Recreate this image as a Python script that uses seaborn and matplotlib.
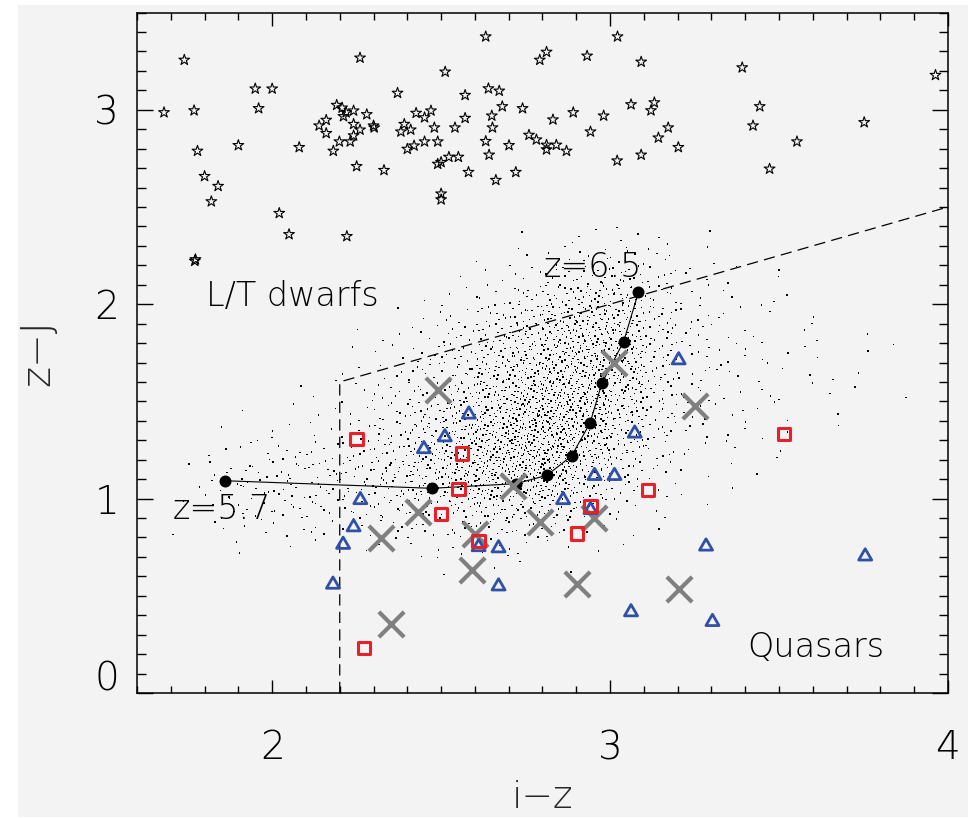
import numpy as np
import matplotlib
matplotlib.use("Agg")
import matplotlib.pyplot as plt
import matplotlib.transforms as mtransforms
from matplotlib.patches import Rectangle
from matplotlib.path import Path
from matplotlib.ticker import MultipleLocator
import seaborn as sns

# ---------------------------------------------------------------- data
# L/T dwarfs (i-z, z-J)
dwarf_iz = [1.740, 1.680, 1.769, 1.950, 2.000, 1.960, 1.779, 1.900, 2.080, 1.800,
            1.840, 1.820, 2.021, 2.050, 2.221, 1.771, 1.773,
            2.260, 2.371, 2.191, 2.207, 2.219, 2.211, 2.241, 2.280, 2.160, 2.139,
            2.160, 2.241, 2.260, 2.241, 2.199, 2.231, 2.181, 2.300, 2.302, 2.250,
            2.331, 2.391, 2.381, 2.410, 2.426, 2.400, 2.420,
            2.470, 2.451, 2.451, 2.490, 2.480, 2.541, 2.512, 2.571, 2.571, 2.632,
            2.640, 2.672, 2.681, 2.650, 2.652, 2.632, 2.642, 2.741, 2.701, 2.490,
            2.500, 2.523, 2.551, 2.581, 2.662, 2.721, 2.500, 2.500, 2.792, 2.812,
            2.932, 3.022, 3.092, 2.760, 2.782, 2.812, 2.812, 2.841, 2.871, 2.831,
            2.891, 2.942, 2.981, 3.021, 3.062, 3.131, 3.121, 3.172, 3.143, 3.092,
            3.202, 3.391, 3.963, 3.443, 3.423, 3.553, 3.472, 3.752]
dwarf_zj = [3.256, 2.986, 2.996, 3.108, 3.108, 3.007, 2.788, 2.817, 2.807, 2.658,
            2.607, 2.528, 2.468, 2.359, 2.349, 2.222, 2.230,
            3.267, 3.086, 3.024, 3.010, 2.986, 2.966, 2.995, 2.976, 2.947, 2.918,
            2.879, 2.926, 2.897, 2.867, 2.836, 2.836, 2.788, 2.918, 2.908, 2.709,
            2.689, 2.926, 2.887, 2.897, 2.983, 2.798, 2.815,
            2.995, 2.960, 2.836, 2.836, 2.908, 2.908, 3.195, 3.075, 2.957, 3.376,
            3.109, 3.097, 3.017, 2.969, 2.908, 2.838, 2.768, 3.007, 2.817, 2.721,
            2.730, 2.757, 2.757, 2.679, 2.638, 2.679, 2.568, 2.538, 3.256, 3.297,
            3.277, 3.376, 3.246, 2.870, 2.846, 2.819, 2.795, 2.819, 2.788, 2.949,
            2.986, 2.887, 2.969, 2.738, 3.027, 3.037, 2.996, 2.908, 2.856, 2.768,
            2.807, 3.217, 3.178, 3.017, 2.918, 2.836, 2.696, 2.935]

# model quasar colour track, z = 5.7 ... 6.5 in steps of 0.1
track_iz = [1.859, 2.473, 2.723, 2.813, 2.886, 2.941, 2.976, 3.040, 3.084]
track_zj = [1.092, 1.053, 1.077, 1.120, 1.219, 1.390, 1.595, 1.807, 2.062]

# known quasars, three samples
cross_iz = [2.491, 2.322, 2.431, 2.713, 2.600, 2.592, 2.792, 2.352, 2.902,
            3.013, 3.252, 2.952, 3.203]
cross_zj = [1.559, 0.798, 0.932, 1.063, 0.819, 0.632, 0.882, 0.354, 0.560,
            1.699, 1.477, 0.901, 0.533]

tri_iz = [2.582, 2.511, 2.449, 2.261, 2.241, 2.210, 2.180, 2.611, 2.670, 2.670,
          2.861, 3.203, 3.073, 2.954, 3.013, 2.942, 3.284, 3.755, 3.062, 3.303]
tri_zj = [1.443, 1.326, 1.265, 1.003, 0.863, 0.773, 0.568, 0.761, 0.755, 0.559,
          1.003, 1.722, 1.345, 1.127, 1.127, 0.952, 0.764, 0.713, 0.426, 0.376]

sq_iz = [2.250, 2.562, 2.552, 2.500, 2.611, 2.271, 3.514, 3.112, 2.942, 2.902]
sq_zj = [1.308, 1.231, 1.050, 0.922, 0.781, 0.231, 1.332, 1.043, 0.961, 0.821]

# colour-selection boundary
cut_iz = [2.2, 2.2, 4.0]
cut_zj = [0.0, 1.6, 2.5]

# simulated quasar colours: number of objects per 0.1 x 0.1 mag cell
cloud_iz_cols = [1.7, 1.8, 1.9, 2.0, 2.1, 2.2, 2.3, 2.4, 2.5, 2.6, 2.7,
                 2.8, 2.9, 3.0, 3.1, 3.2, 3.3, 3.4, 3.5, 3.6, 3.7, 3.8]
cloud_zj_rows = [2.3, 2.2, 2.1, 2.0, 1.9, 1.8, 1.7, 1.6, 1.5,
                 1.4, 1.3, 1.2, 1.1, 1.0, 0.9, 0.8, 0.7, 0.6]
cloud_counts = [
    [0, 0, 0, 0, 0, 0, 0, 0, 0, 0, 1, 1, 2, 3, 2, 1, 0, 0, 0, 0, 0, 0],
    [0, 0, 0, 0, 0, 0, 0, 0, 0, 1, 2, 4, 6, 6, 4, 1, 1, 0, 0, 0, 0, 0],
    [0, 0, 0, 0, 0, 0, 0, 0, 1, 2, 5, 9, 12, 13, 7, 3, 2, 1, 1, 0, 0, 0],
    [0, 0, 0, 0, 0, 0, 0, 1, 2, 5, 10, 16, 20, 20, 10, 4, 2, 1, 1, 0, 0, 0],
    [0, 0, 0, 0, 0, 0, 1, 2, 5, 10, 16, 23, 27, 24, 12, 5, 3, 2, 1, 1, 0, 0],
    [0, 0, 0, 0, 0, 1, 2, 4, 8, 14, 21, 29, 32, 27, 13, 6, 3, 2, 1, 1, 1, 0],
    [0, 0, 0, 0, 0, 1, 3, 6, 11, 18, 26, 33, 36, 28, 14, 6, 4, 2, 2, 1, 1, 1],
    [0, 0, 0, 0, 1, 2, 4, 8, 14, 22, 30, 37, 37, 28, 13, 6, 4, 2, 2, 1, 1, 0],
    [0, 0, 0, 1, 1, 3, 6, 11, 17, 27, 35, 40, 38, 26, 12, 6, 3, 2, 2, 1, 1, 1],
    [0, 0, 1, 1, 2, 4, 8, 14, 21, 31, 39, 44, 38, 24, 11, 5, 3, 2, 1, 1, 0, 0],
    [0, 1, 1, 2, 3, 6, 10, 17, 25, 35, 43, 45, 35, 20, 9, 4, 2, 2, 1, 1, 0, 0],
    [0, 2, 4, 5, 6, 9, 13, 19, 27, 37, 44, 43, 30, 16, 7, 3, 2, 1, 1, 0, 0, 0],
    [1, 4, 7, 8, 9, 11, 15, 21, 29, 37, 41, 38, 24, 12, 5, 2, 1, 1, 0, 0, 0, 0],
    [1, 5, 8, 9, 9, 11, 14, 19, 25, 31, 33, 28, 17, 8, 3, 1, 1, 0, 0, 0, 0, 0],
    [1, 4, 6, 7, 7, 8, 10, 13, 17, 19, 19, 15, 9, 4, 2, 1, 0, 0, 0, 0, 0, 0],
    [1, 2, 3, 3, 4, 4, 5, 7, 9, 10, 9, 7, 4, 2, 1, 0, 0, 0, 0, 0, 0, 0],
    [0, 1, 1, 1, 1, 1, 2, 3, 3, 4, 3, 2, 1, 1, 0, 0, 0, 0, 0, 0, 0, 0],
    [0, 0, 0, 0, 0, 0, 0, 1, 1, 1, 1, 1, 0, 0, 0, 0, 0, 0, 0, 0, 0, 0],
]
cloud_cell = 0.1


def radical_inverse(i, base):
    """Van der Corput radical inverse of integer i in the given base."""
    f, r = 1.0, 0.0
    while i > 0:
        f /= base
        r += f * (i % base)
        i //= base
    return r


# spread each cell's objects over the cell with a Halton (2, 3) pattern
cloud_iz, cloud_zj = [], []
k = 37
for y0, row in zip(cloud_zj_rows, cloud_counts):
    for x0, n in zip(cloud_iz_cols, row):
        for _ in range(n):
            k += 1
            cloud_iz.append(x0 + radical_inverse(k, 2) * cloud_cell)
            cloud_zj.append(y0 + radical_inverse(k, 3) * cloud_cell)

# ---------------------------------------------------------------- style
sns.set_style("ticks")
plt.rcParams["font.family"] = ["DejaVu Sans"]
plt.rcParams["font.weight"] = 200
plt.rcParams["axes.linewidth"] = 1.1
plt.rcParams["text.color"] = "black"

panel = "#f3f3f3"
fig = plt.figure(figsize=(9.75, 8.19), dpi=100)
fig.patch.set_facecolor("white")
fig.add_artist(Rectangle((0.0185, 0.0024), 0.974, 0.9915, transform=fig.transFigure,
                         facecolor=panel, edgecolor="none", zorder=-10))
ax = fig.add_axes([0.1405, 0.1538, 0.8318, 0.8309])
ax.set_facecolor(panel)

# simulated colours
sns.scatterplot(x=cloud_iz, y=cloud_zj, marker="s", s=1.1, color="black",
                edgecolor="none", linewidth=0, ax=ax, zorder=1)

# selection cut
sns.lineplot(x=cut_iz, y=cut_zj, estimator=None, sort=False, color="black",
             linewidth=0.9, linestyle=(0, (9, 5)), ax=ax, zorder=2)

# model track
sns.lineplot(x=track_iz, y=track_zj, estimator=None, sort=False, color="black",
             linewidth=0.8, ax=ax, zorder=3)
sns.scatterplot(x=track_iz, y=track_zj, marker="o", s=74, color="black",
                edgecolor="black", linewidth=0, ax=ax, zorder=4)

# L/T dwarfs
sns.scatterplot(x=dwarf_iz, y=dwarf_zj, marker="*", s=66, facecolor="none",
                edgecolor="black", linewidth=0.8, ax=ax, zorder=4)

# quasar samples
sns.scatterplot(x=cross_iz, y=cross_zj, marker="x", s=330, color="#808080",
                linewidth=3.0, ax=ax, zorder=5)
tri = Path([(-1, -0.866), (1, -0.866), (0, 0.866), (-1, -0.866)], closed=True)
sns.scatterplot(x=tri_iz, y=tri_zj, marker=tri, s=88, facecolor="none",
                edgecolor="#3050a8", linewidth=2.0, ax=ax, zorder=6)
sns.scatterplot(x=sq_iz, y=sq_zj, marker="s", s=80, facecolor="none",
                edgecolor="#e8202a", linewidth=2.2, ax=ax, zorder=7)

# annotations
txt = dict(fontsize=24, fontweight=200, ha="left", va="baseline", zorder=8)
ax.text(1.803, 1.991, "L/T dwarfs", **txt)
ax.text(1.704, 0.896, "z=5.7", **txt)
ax.text(2.804, 2.140, "z=6.5", **txt)
ax.text(3.405, 0.185, "Quasars", **txt)

# axes
ax.set_xlim(1.6, 4.0)
ax.set_ylim(0.0, 3.5)
ax.set_xticks([2, 3, 4])
ax.set_yticks([0, 1, 2, 3])
ax.set_yticklabels(["", "1", "2", "3"])
ax.xaxis.set_minor_locator(MultipleLocator(0.1))
ax.yaxis.set_minor_locator(MultipleLocator(0.1))
ax.tick_params(which="both", direction="in", top=True, right=True, width=1.0,
               colors="black", labelsize=28)
ax.tick_params(axis="x", which="major", length=9.5, pad=26)
ax.tick_params(axis="x", which="minor", length=5)
ax.tick_params(axis="y", which="major", length=11.5, pad=13)
ax.tick_params(axis="y", which="minor", length=6.5)
for lab in ax.get_xticklabels() + ax.get_yticklabels():
    lab.set_fontweight(200)
for sp in ax.spines.values():
    sp.set_visible(True)
    sp.set_color("black")

# the zero label sits a little above its tick
zero_tr = ax.get_yaxis_text1_transform(13)[0] + mtransforms.ScaledTranslation(
    0, 14 / 100, fig.dpi_scale_trans)
ax.text(0, 0, "0", transform=zero_tr, ha="right", va="center", fontsize=28,
        fontweight=200)

ax.set_xlabel("i\u2212z", fontsize=27, fontweight=200)
ax.set_ylabel("z\u2212J", fontsize=29, fontweight=200)
ax.xaxis.set_label_coords(0.5, -0.128)
ax.yaxis.set_label_coords(-0.098, 0.5)

fig.savefig("out.png", dpi=100, facecolor=fig.get_facecolor())
